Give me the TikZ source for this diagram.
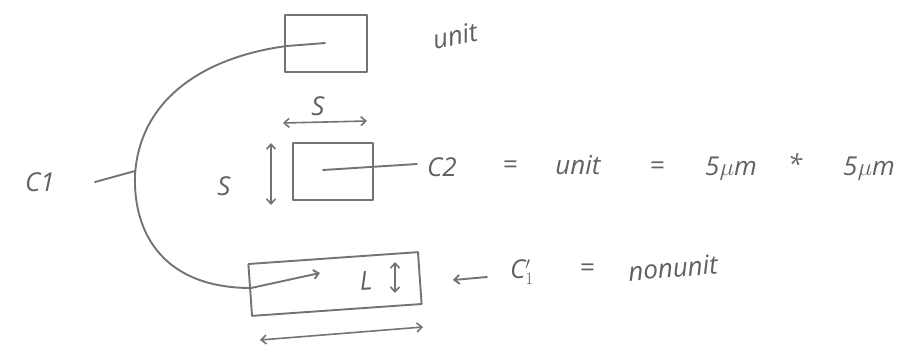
\documentclass[tikz,border=0pt]{standalone}
\usepackage{fontspec}
\setmainfont{Open Sans}
\usetikzlibrary{arrows.meta}
\begin{document}
\begin{tikzpicture}[x=1pt,y=-1pt]
\tikzset{
  pen/.style={draw=black!55, line width=1.9pt, line cap=round, line join=round},
  hand/.style={text=black!62, font=\fontsize{26}{26}\selectfont\itshape, inner sep=0pt},
  cell/.style={pen, inner sep=0pt},
  dim/.style={pen, line width=1.6pt, {Straight Barb[length=5pt,width=9pt]}-{Straight Barb[length=5pt,width=9pt]}},
  ptr/.style={pen, -{Straight Barb[length=5pt,width=9pt]}}
}
\useasboundingbox (0,0) rectangle (920,357);

% cells
\node[cell, minimum width=82pt, minimum height=57pt] (ubox) at (326,43.5) {};
\node[cell, minimum width=80pt, minimum height=57pt] (sbox) at (333,171.5) {};
\node[cell, minimum width=170pt, minimum height=52pt, rotate=4] (nbox) at (335,284) {};

% unit label on the top cell
\node[hand, rotate=12] (ulab) at (455,36) {unit};

% C1 connection through the top and bottom cells
\coordinate (ctop) at (325,43);
\coordinate (cbot) at (320,273);
\draw[ptr] (ctop) -- (287,46) .. controls (210,56) and (140,95) .. (135,175)
  .. controls (133,235) and (165,288) .. (251,288) -- (cbot);

% C1 label and its tick
\node[hand] (c1) at (40,182) {C1};
\coordinate (tick) at (135,171);
\draw[pen] ([xshift=40pt]c1.east) -- (tick);

% the square cell and its sides
\node[hand] (stop) at (318,106) {S};
\node[hand] (sleft) at (224,186) {S};
\coordinate (ha) at (283,123);
\coordinate (hb) at (367,121);
\draw[dim] (ha) -- (hb);
\coordinate (va) at (271,143);
\coordinate (vb) at (271,205);
\draw[dim] (va) -- (vb);

% C2 line and equation
\node[hand] (c2) at (442,167) {C2};
\draw[pen] (c2.west) ++(-10pt,3pt) -- (323,170);
\node[hand] (e1) at (510,167) {=};
\node[hand] (u2) at (578,165) {unit};
\node[hand] (e2) at (657,168) {=};
\node[hand] (m1) at (731,169) {5$\mu$m};
\node[hand] (st) at (795,164) {*};
\node[hand] (m2) at (869,169) {5$\mu$m};

% non-unit cell: L side and length
\node[hand, rotate=4] (llab) at (366,281) {L};
\coordinate (la) at (395,262);
\coordinate (lb) at (395,293);
\draw[dim] (la) -- (lb);
\coordinate (wa) at (260,340);
\coordinate (wb) at (423,327);
\draw[dim] (wa) -- (wb);

% C1' label
\node[hand] (c1p) at (522,272) {C$_1'$};
\coordinate (parr) at (453,280);
\draw[ptr] (487,277) -- (parr);
\node[hand] (e3) at (587,270) {=};
\node[hand, rotate=5] (nu) at (673,268) {nonunit};
\end{tikzpicture}
\end{document}
